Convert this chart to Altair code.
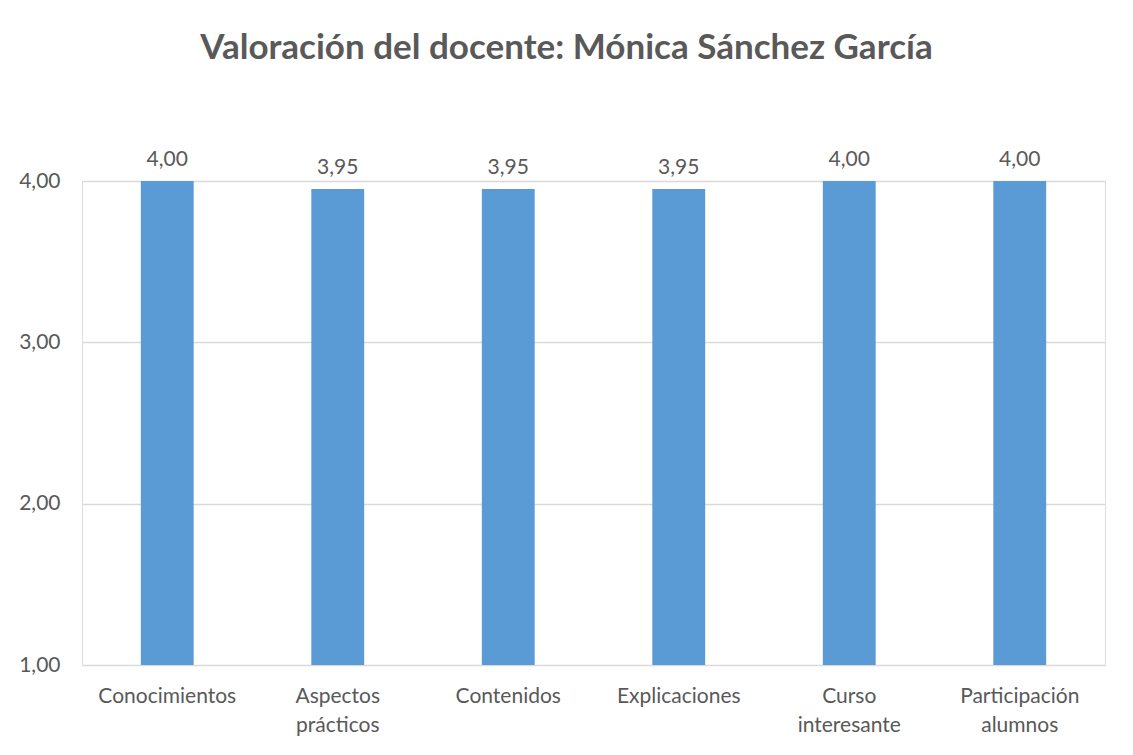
import altair as alt
import pandas as pd

categorias = ["Conocimientos", "Aspectos prácticos", "Contenidos", "Explicaciones",
              "Curso interesante", "Participación alumnos"]
valores = [4.00, 3.95, 3.95, 3.95, 4.00, 4.00]
y_ticks = [1, 2, 3, 4]
titulo = "Valoración del docente: Mónica Sánchez García"

df = pd.DataFrame({"categoria": categorias, "valor": valores})

FONT = "Lato"
GRAY = "#595959"

x_enc = alt.X("categoria:N", sort=categorias, title=None,
              scale=alt.Scale(paddingInner=0.69, paddingOuter=0.345),
              axis=alt.Axis(labelAngle=0, labelExpr="split(datum.label, ' ')",
                            labelFont=FONT, labelFontSize=21, labelColor=GRAY,
                            labelLineHeight=29, labelPadding=20, labelBaseline="top",
                            ticks=False, domain=False, grid=False))
y_enc = alt.Y("valor:Q", title=None,
              scale=alt.Scale(domain=[1, 4], nice=False, zero=False),
              axis=alt.Axis(values=y_ticks,
                            labelExpr="replace(format(datum.value, '.2f'), '.', ',')",
                            labelFont=FONT, labelFontSize=21, labelColor=GRAY,
                            labelPadding=22, ticks=False, domain=False,
                            grid=True, gridColor="#D9D9D9", gridWidth=1.3))

base = alt.Chart(df).encode(x=x_enc, y=y_enc)

bars = base.mark_bar(color="#5B9BD5").encode(y2=alt.datum(1))
labels = base.transform_calculate(
    etiqueta="replace(format(datum.valor, '.2f'), '.', ',')"
).mark_text(font=FONT, fontSize=21, color=GRAY, dy=-15, baseline="alphabetic").encode(
    text="etiqueta:N")

chart = alt.layer(bars, labels).properties(
    width=1023, height=484,
    title=alt.TitleParams(titulo, font=FONT, fontSize=35, fontWeight="bold",
                          color=GRAY, anchor="middle", dx=-27, offset=83),
    autosize=alt.AutoSizeParams(type="none"),
    padding={"left": 74, "top": 173, "right": 20, "bottom": 82},
).configure_view(stroke=None).configure(background="white")

chart.save("out.html", embed_options={"renderer": "svg", "actions": False})
